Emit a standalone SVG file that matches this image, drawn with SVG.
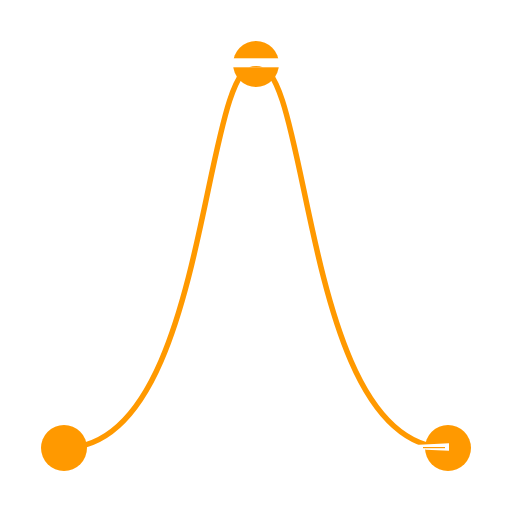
<svg xmlns="http://www.w3.org/2000/svg" width="512" height="512" viewBox="0 0 512 512">
<style>
.node{fill:#ff9900}
.edge{fill:none;stroke:#ff9900;stroke-width:5.5}
.gap{fill:#ffffff}
</style>
<rect width="512" height="512" fill="#ffffff"/>
<g id="connectors">
<path class="edge" d="M64 448 C210 448 200 64 256 64 C312 64 302 448 448 448"/>
</g>
<g id="node-left"><circle class="node" cx="64" cy="448" r="23"/></g>
<g id="node-top">
<circle class="node" cx="256" cy="64" r="23"/>
<rect class="gap" x="232" y="58.3" width="48" height="9"/>
<path class="node" d="M249 67.3 Q256 64.8 263 67.3 Z"/>
</g>
<g id="node-right">
<circle class="node" cx="448" cy="448" r="23"/>
<polygon class="gap" points="414,445 449,443.3 449,450.7 426,449.8"/>
<line x1="423" y1="447.6" x2="445" y2="447.6" stroke="#ff9900" stroke-width="1.2"/>
</g>
</svg>
